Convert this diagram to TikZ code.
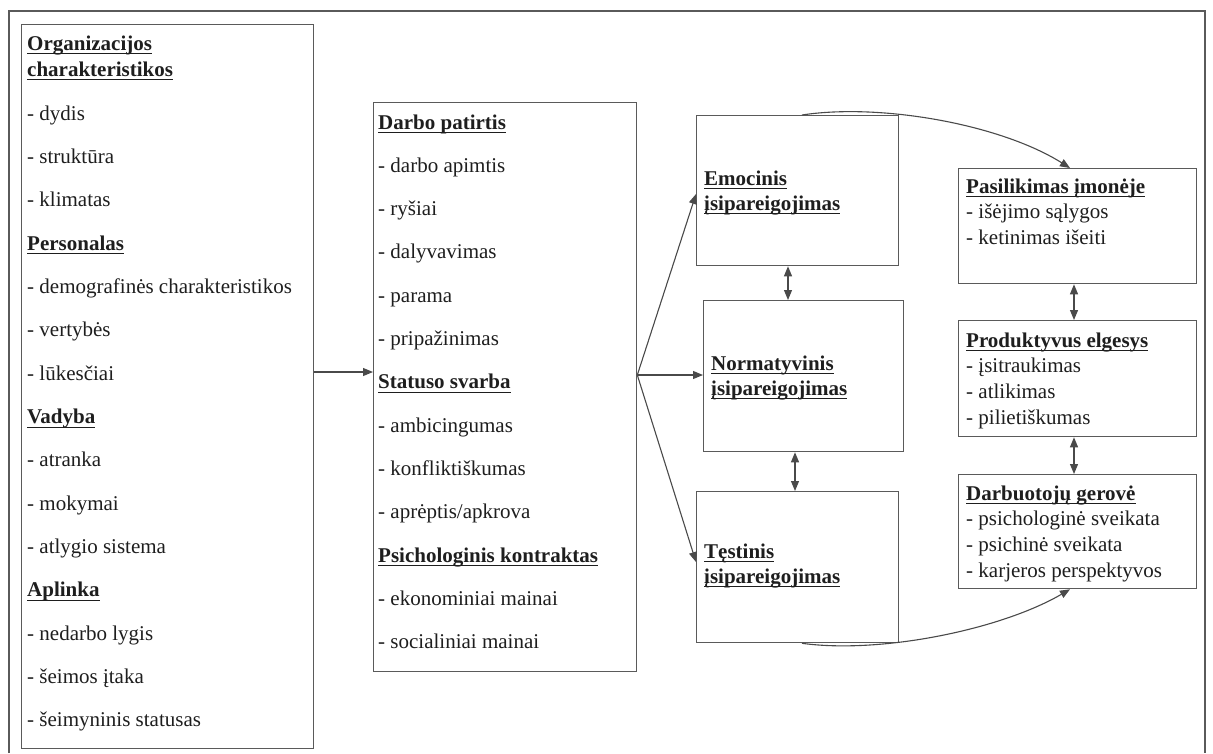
\documentclass[tikz,border=0pt]{standalone}
\usepackage{fontspec}
\setmainfont{Liberation Serif}
\usetikzlibrary{arrows.meta}
\newsavebox\hdbox
\newcommand\hd[1]{\sbox\hdbox{\textbf{#1}}\rlap{\rule[-4.3pt]{\wd\hdbox}{1.1pt}}\usebox\hdbox}
\definecolor{boxgray}{HTML}{5A5A5A}
\definecolor{linegray}{HTML}{4A4A4A}
\definecolor{textcol}{HTML}{1E1E1E}
\tikzset{
  boxnode/.style={draw=boxgray, line width=1.3pt, inner sep=0pt, anchor=north west, fill=white},
  txt/.style={anchor=base west, inner sep=0pt, font=\fontsize{21}{25}\selectfont, text=textcol},
  arr/.style={draw=linegray, line width=1.1pt, -{Triangle[length=10pt,width=8pt]}},
  darr/.style={draw=linegray, line width=1.1pt, {Triangle[length=10pt,width=8pt]}-{Triangle[length=10pt,width=8pt]}},
}
\begin{document}
\begin{tikzpicture}[x=1pt,y=-1pt]
\useasboundingbox (0,0) rectangle (1213,753);
\fill[white] (0,0) rectangle (1213,753);
% outer frame
\draw[boxgray, line width=1.3pt] (9,753) -- (9,11) -- (1205,11) -- (1205,753);

% boxes
\node[boxnode, minimum width=292pt, minimum height=724pt] (leftbox) at (21,24) {};
\node[boxnode, minimum width=263pt, minimum height=569pt] (midbox) at (373,102) {};
\node[boxnode, minimum width=202pt, minimum height=150pt] (emo) at (696,115) {};
\node[boxnode, minimum width=200pt, minimum height=151pt] (norm) at (703,300) {};
\node[boxnode, minimum width=202pt, minimum height=151pt] (test) at (696,491) {};
\node[boxnode, minimum width=238pt, minimum height=115pt] (pas) at (958,168) {};
\node[boxnode, minimum width=238pt, minimum height=116pt] (prod) at (958,320) {};
\node[boxnode, minimum width=238pt, minimum height=114pt] (darb) at (958,474) {};

% left box texts
\node[txt] (l1) at (27,50) {\hd{Organizacijos}};
\node[txt] (l2) at (27,76) {\hd{charakteristikos}};
\node[txt] (l3) at (27,120) {- dydis};
\node[txt] (l4) at (27,163.35) {- struktūra};
\node[txt] (l5) at (27,206.7) {- klimatas};
\node[txt] (l6) at (27,250.05) {\hd{Personalas}};
\node[txt] (l7) at (27,293.4) {- demografinės charakteristikos};
\node[txt] (l8) at (27,336.75) {- vertybės};
\node[txt] (l9) at (27,380.1) {- lūkesčiai};
\node[txt] (l10) at (27,423.45) {\hd{Vadyba}};
\node[txt] (l11) at (27,466.8) {- atranka};
\node[txt] (l12) at (27,510.15) {- mokymai};
\node[txt] (l13) at (27,553.5) {- atlygio sistema};
\node[txt] (l14) at (27,596.85) {\hd{Aplinka}};
\node[txt] (l15) at (27,640.2) {- nedarbo lygis};
\node[txt] (l16) at (27,683.55) {- šeimos įtaka};
\node[txt] (l17) at (27,726.9) {- šeimyninis statusas};

% middle box texts
\node[txt] (m1) at (378,129) {\hd{Darbo patirtis}};
\node[txt] (m2) at (378,172.3) {- darbo apimtis};
\node[txt] (m3) at (378,215.6) {- ryšiai};
\node[txt] (m4) at (378,258.9) {- dalyvavimas};
\node[txt] (m5) at (378,302.2) {- parama};
\node[txt] (m6) at (378,345.5) {- pripažinimas};
\node[txt] (m7) at (378,388.8) {\hd{Statuso svarba}};
\node[txt] (m8) at (378,432.1) {- ambicingumas};
\node[txt] (m9) at (378,475.4) {- konfliktiškumas};
\node[txt] (m10) at (378,518.7) {- aprėptis/apkrova};
\node[txt] (m11) at (378,562) {\hd{Psichologinis kontraktas}};
\node[txt] (m12) at (378,605.3) {- ekonominiai mainai};
\node[txt] (m13) at (378,648.6) {- socialiniai mainai};

% commitment boxes texts
\node[txt] (e1) at (704,185) {\hd{Emocinis}};
\node[txt] (e2) at (704,210) {\hd{įsipareigojimas}};
\node[txt] (n1) at (711,370) {\hd{Normatyvinis}};
\node[txt] (n2) at (711,395) {\hd{įsipareigojimas}};
\node[txt] (t1) at (704,558) {\hd{Tęstinis}};
\node[txt] (t2) at (704,583) {\hd{įsipareigojimas}};

% outcome boxes texts
\node[txt] (p1) at (966,193) {\hd{Pasilikimas įmonėje}};
\node[txt] (p2) at (966,218.7) {- išėjimo sąlygos};
\node[txt] (p3) at (966,244.4) {- ketinimas išeiti};
\node[txt] (r1) at (966,347) {\hd{Produktyvus elgesys}};
\node[txt] (r2) at (966,372.7) {- įsitraukimas};
\node[txt] (r3) at (966,398.4) {- atlikimas};
\node[txt] (r4) at (966,424.1) {- pilietiškumas};
\node[txt] (d1) at (966,500) {\hd{Darbuotojų gerovė}};
\node[txt] (d2) at (966,525.7) {- psichologinė sveikata};
\node[txt] (d3) at (966,551.4) {- psichinė sveikata};
\node[txt] (d4) at (966,577.1) {- karjeros perspektyvos};

% connectors
\draw[arr] (leftbox.east |- 0,372) -- (midbox.west |- 0,372);
\coordinate (fork) at (midbox.east |- 0,375);
\draw[arr] (fork) -- (emo.west |- 0,194);
\draw[arr] (fork) -- (norm.west |- fork);
\draw[arr] (fork) -- (test.west |- 0,562);
\draw[darr] (emo.south -| 788,0) -- (norm.north -| 788,0);
\draw[darr] (norm.south -| 795,0) -- (test.north -| 795,0);
\draw[darr] (pas.south -| 1074,0) -- (prod.north -| 1074,0);
\draw[darr] (prod.south -| 1074,0) -- (darb.north -| 1074,0);
\draw[arr] (emo.north -| 802,0) .. controls (880,103) and (1000,124) .. (pas.north -| 1070,0);
\draw[arr] (test.south -| 802,0) .. controls (880,654) and (1000,630) .. (darb.south -| 1070,0);
\end{tikzpicture}
\end{document}
